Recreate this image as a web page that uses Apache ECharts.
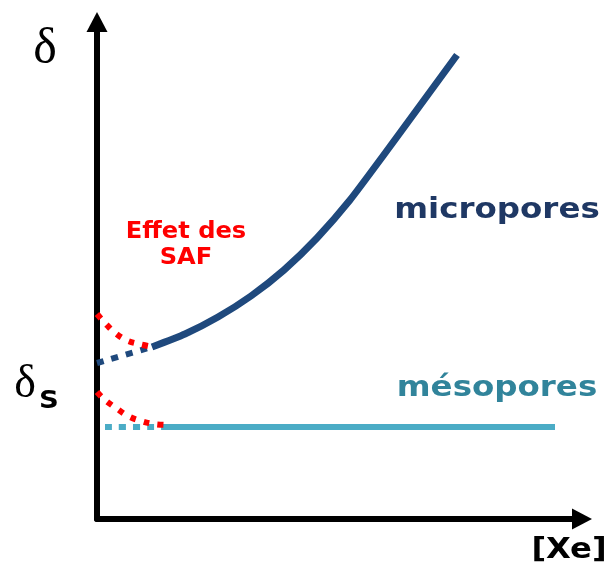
<!DOCTYPE html>
<html>
<head>
<meta charset="utf-8">
<script src="https://cdn.jsdelivr.net/npm/echarts@6/dist/echarts.min.js"></script>
<style>
  html, body { margin: 0; padding: 0; background: #fff; }
  #chart { width: 613px; height: 567px; }
</style>
</head>
<body>
<div id="chart"></div>
<script>
// valeurs (x = [Xe], y = δ, unités arbitraires)
const microX = [55, 88, 121, 154, 187, 220, 253, 286, 319, 360]
const microY = [172, 185, 202, 223, 249, 281, 319, 363, 408, 464]
const microDotX = [0, 55]
const microDotY = [156, 172]
const safHautX = [0, 8, 17, 29, 42, 56]
const safHautY = [205, 196, 187, 179, 175, 172]
const safBasX = [0, 8, 19, 31, 44, 57, 70]
const safBasY = [127, 119, 111, 103, 98, 95, 94]
const mesoX = [65, 458]
const mesoY = [92, 92]
const mesoDotX = [8, 65]
const mesoDotY = [92, 92]

const pairs = (xs, ys) => xs.map((x, i) => [x, ys[i]])

const chart = echarts.init(document.getElementById('chart'))

const dotted = (data, color, dash) => ({
  type: 'line',
  data: data,
  smooth: 0.4,
  symbol: 'none',
  silent: true,
  lineStyle: { color: color, width: 6, type: dash, cap: 'butt' }
})

const option = {
  animation: false,
  grid: { left: 97, top: 22, right: 31, bottom: 48 },
  xAxis: {
    type: 'value', min: 0, max: 485,
    axisLine: {
      lineStyle: { color: '#000', width: 6 },
      symbol: ['none', 'triangle'], symbolSize: [21, 20]
    },
    axisTick: { show: false }, axisLabel: { show: false }, splitLine: { show: false }
  },
  yAxis: {
    type: 'value', min: 0, max: 497,
    axisLine: {
      show: true,
      lineStyle: { color: '#000', width: 6 },
      symbol: ['none', 'triangle'], symbolSize: [21, 20]
    },
    axisTick: { show: false }, axisLabel: { show: false }, splitLine: { show: false }
  },
  series: [
    dotted(pairs(microDotX, microDotY), '#1f497d', [7, 8]),
    dotted(pairs(mesoDotX, mesoDotY), '#4bacc6', [7, 7]),
    {
      type: 'line', data: pairs(mesoX, mesoY), symbol: 'none', silent: true,
      lineStyle: { color: '#4bacc6', width: 6, cap: 'butt' }
    },
    {
      type: 'line', data: pairs(microX, microY), symbol: 'none', silent: true,
      smooth: 0.2,
      lineStyle: { color: '#1f497d', width: 7, cap: 'butt', join: 'round' }
    },
    dotted(pairs(safHautX, safHautY), '#ff0000', [6, 8]),
    dotted(pairs(safBasX, safBasY), '#ff0000', [6, 8])
  ],
  graphic: [
    { type: 'text', x: 45, y: 50, style: { text: 'δ', font: '50px "Liberation Serif"', fill: '#000', textAlign: 'center', textVerticalAlign: 'middle' } },
    { type: 'text', x: 25, y: 385, style: { text: 'δ', font: '46px "Liberation Serif"', fill: '#000', textAlign: 'center', textVerticalAlign: 'middle' } },
    { type: 'text', x: 49, y: 401, scaleX: 1.1, style: { text: 'S', font: 'bold 25px "DejaVu Sans"', fill: '#000', textAlign: 'center', textVerticalAlign: 'middle' } },
    { type: 'text', x: 497, y: 210, scaleX: 1.12, style: { text: 'micropores', font: 'bold 29px "DejaVu Sans"', fill: '#1f3864', textAlign: 'center', textVerticalAlign: 'middle' } },
    { type: 'text', x: 497, y: 388, scaleX: 1.12, style: { text: 'mésopores', font: 'bold 29px "DejaVu Sans"', fill: '#31849b', textAlign: 'center', textVerticalAlign: 'middle' } },
    { type: 'text', x: 186, y: 232, scaleX: 1.05, style: { text: 'Effet des', font: 'bold 23px "DejaVu Sans"', fill: '#ff0000', textAlign: 'center', textVerticalAlign: 'middle' } },
    { type: 'text', x: 186, y: 258, scaleX: 1.05, style: { text: 'SAF', font: 'bold 23px "DejaVu Sans"', fill: '#ff0000', textAlign: 'center', textVerticalAlign: 'middle' } },
    { type: 'text', x: 569, y: 551, scaleX: 1.15, style: { text: '[Xe]', font: 'bold 28px "DejaVu Sans"', fill: '#000', textAlign: 'center', textVerticalAlign: 'middle' } }
  ]
}

chart.setOption(option)
</script>
</body>
</html>
